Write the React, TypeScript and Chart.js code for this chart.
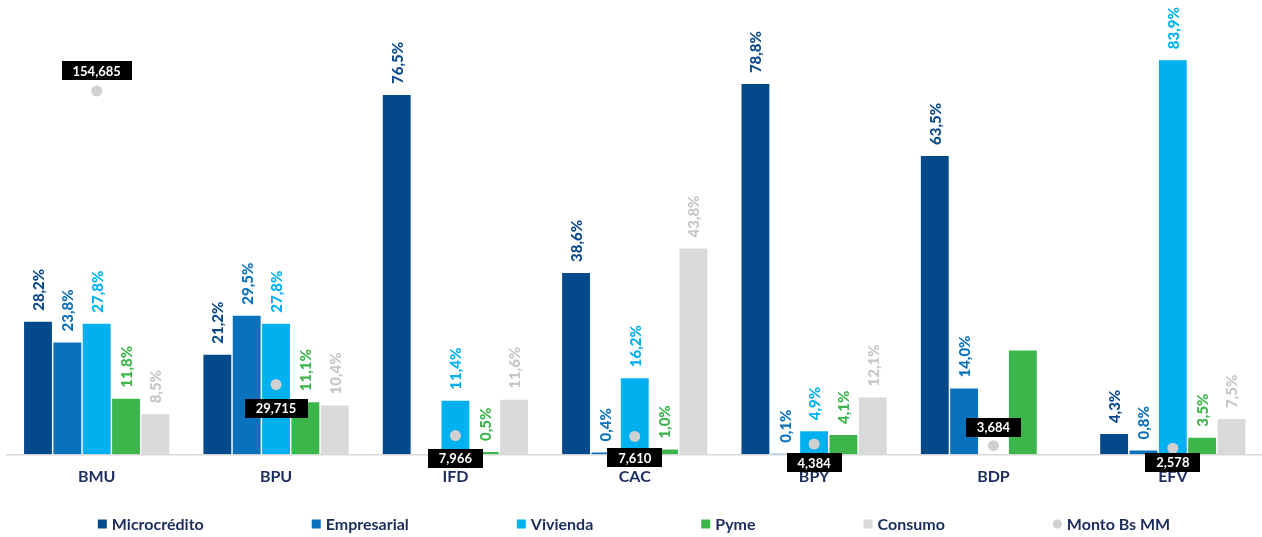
import React, { useEffect, useRef } from 'react';
import { Chart, registerables } from 'chart.js';

Chart.register(...registerables);

// ---------- data ----------
const categories = ['BMU', 'BPU', 'IFD', 'CAC', 'BPY', 'BDP', 'EFV'];
const microcredito = [28.2, 21.2, 76.5, 38.6, 78.8, 63.5, 4.3];
const empresarial = [23.8, 29.5, null, 0.4, 0.1, 14.0, 0.8];
const vivienda = [27.8, 27.8, 11.4, 16.2, 4.9, null, 83.9];
const pyme = [11.8, 11.1, 0.5, 1.0, 4.1, 22.1, 3.5];
const consumo = [8.5, 10.4, 11.6, 43.8, 12.1, null, 7.5];
const montoBsMM = [154685, 29715, 7966, 7610, 4384, 3684, 2578];
const seriesNames = ['Microcrédito', 'Empresarial', 'Vivienda', 'Pyme', 'Consumo', 'Monto Bs MM'];
const hiddenPercentLabels = [{ series: 'Pyme', category: 'BDP' }];

// ---------- styles ----------
const barColors = ['#044a8b', '#0a72bd', '#00b0ef', '#3cb54a', '#d9d9d9'];
const labelColors = ['#0b4a8a', '#0a72bd', '#00b0ef', '#3cb54a', '#c6c6c6'];
const pointColor = '#d0d0d0';
const navy = '#1b2c5e';
const FONT = 'Lato, "Open Sans", sans-serif';
const CANVAS_W = 1268;
const CANVAS_H = 537;
// vertical offset of each Monto label box from its point (px)
const montoLabelDy = [-20, 23.5, 22.5, 21.5, 18.5, -18.5, 14];

const fmtPct = (v: number) => v.toFixed(1).replace('.', ',') + '%';
const fmtMonto = (v: number) => v.toLocaleString('en-US');

const labelsPlugin = {
  id: 'valueLabels',
  afterDatasetsDraw(chart: any) {
    const ctx = chart.ctx;
    ctx.save();
    // percent labels on bars
    chart.data.datasets.forEach((ds: any, di: number) => {
      if (ds.type !== 'bar') return;
      const meta = chart.getDatasetMeta(di);
      meta.data.forEach((el: any, i: number) => {
        const v = ds.data[i];
        if (v === null || v === undefined) return;
        if (hiddenPercentLabels.some((h) => h.series === ds.label && h.category === categories[i])) return;
        ctx.save();
        ctx.translate(el.x, el.y - 11);
        ctx.rotate(-Math.PI / 2);
        ctx.font = `900 15px ${FONT}`;
        ctx.fillStyle = labelColors[di];
        ctx.textAlign = 'left';
        ctx.textBaseline = 'middle';
        ctx.fillText(fmtPct(v), 0, 1);
        ctx.restore();
      });
    });
    // monto labels
    chart.data.datasets.forEach((ds: any, di: number) => {
      if (ds.type !== 'line') return;
      const meta = chart.getDatasetMeta(di);
      meta.data.forEach((el: any, i: number) => {
        const v = ds.data[i];
        if (v === null || v === undefined) return;
        const text = fmtMonto(v);
        ctx.font = `bold 13px ${FONT}`;
        const w = ctx.measureText(text).width + 22;
        const h = 19;
        const cx = el.x;
        const cy = el.y + montoLabelDy[i];
        ctx.fillStyle = '#000000';
        ctx.fillRect(Math.round(cx - w / 2), Math.round(cy - h / 2), Math.round(w), h);
        ctx.fillStyle = '#ffffff';
        ctx.textAlign = 'center';
        ctx.textBaseline = 'middle';
        ctx.fillText(text, cx, cy + 1);
      });
    });
    ctx.restore();
  },
};

const legendPlugin = {
  id: 'customLegend',
  afterDraw(chart: any) {
    const ctx = chart.ctx;
    ctx.save();
    ctx.font = `bold 16px ${FONT}`;
    const marker = 9;
    const gapMT = 5;
    const gapItem = 108;
    const items = chart.data.datasets.map((ds: any) => ({
      text: ds.label,
      color: ds.type === 'bar' ? ds.backgroundColor : ds.pointBackgroundColor,
      round: ds.type !== 'bar',
    }));
    const widths = items.map((it: any) => marker + gapMT + ctx.measureText(it.text).width);
    const total = widths.reduce((a: number, b: number) => a + b, 0) + gapItem * (items.length - 1);
    let x = 634 - total / 2;
    const y = 524;
    items.forEach((it: any, i: number) => {
      ctx.fillStyle = it.color;
      if (it.round) {
        ctx.beginPath();
        ctx.arc(x + marker / 2, y, marker / 2, 0, Math.PI * 2);
        ctx.fill();
      } else {
        ctx.fillRect(x, y - marker / 2, marker, marker);
      }
      ctx.fillStyle = navy;
      ctx.textAlign = 'left';
      ctx.textBaseline = 'middle';
      ctx.fillText(it.text, x + marker + gapMT, y + 1);
      x += widths[i] + gapItem;
    });
    ctx.restore();
  },
};

export default function App() {
  const ref = useRef<HTMLCanvasElement | null>(null);

  useEffect(() => {
    if (!ref.current) return;
    const barSeries = [microcredito, empresarial, vivienda, pyme, consumo];
    const datasets: any[] = barSeries.map((data, i) => ({
      type: 'bar',
      label: seriesNames[i],
      data,
      backgroundColor: barColors[i],
      borderWidth: 0,
      yAxisID: 'y',
      categoryPercentage: 0.818,
      barPercentage: 0.95,
      order: 1,
    }));
    datasets.push({
      type: 'line',
      label: seriesNames[5],
      data: montoBsMM,
      showLine: false,
      pointRadius: 5.5,
      pointHoverRadius: 5.5,
      pointBackgroundColor: pointColor,
      pointBorderWidth: 0,
      borderColor: pointColor,
      yAxisID: 'y2',
      order: 0,
    });

    const chart = new Chart(ref.current, {
      data: { labels: categories, datasets },
      options: {
        responsive: false,
        animation: false,
        maintainAspectRatio: false,
        layout: { padding: { left: 7, right: 1, top: 31.5, bottom: 37.5 } },
        plugins: { legend: { display: false }, tooltip: { enabled: false } },
        scales: {
          x: {
            type: 'category',
            offset: true,
            grid: { display: false, drawTicks: false },
            border: { display: true, color: '#d9d9d9', width: 1.5 },
            ticks: {
              color: navy,
              font: { family: FONT, size: 16, weight: 'bold' },
              padding: 13,
              maxRotation: 0,
            },
          },
          y: { display: false, min: 0, max: 90 },
          y2: { display: false, position: 'right', min: 0, max: 180000 },
        },
      } as any,
      plugins: [labelsPlugin, legendPlugin],
    } as any);
    return () => chart.destroy();
  }, []);

  return (
    <div style={{ position: 'absolute', left: 0, top: 0, width: 1262, height: CANVAS_H, overflow: 'hidden', background: '#fff' }}>
      <div style={{ position: 'absolute', left: 0, top: 0, width: CANVAS_W, height: CANVAS_H }}>
        <canvas
          ref={ref}
          width={CANVAS_W}
          height={CANVAS_H}
          style={{ display: 'block', width: CANVAS_W + 'px', height: CANVAS_H + 'px' }}
        />
      </div>
    </div>
  );
}
